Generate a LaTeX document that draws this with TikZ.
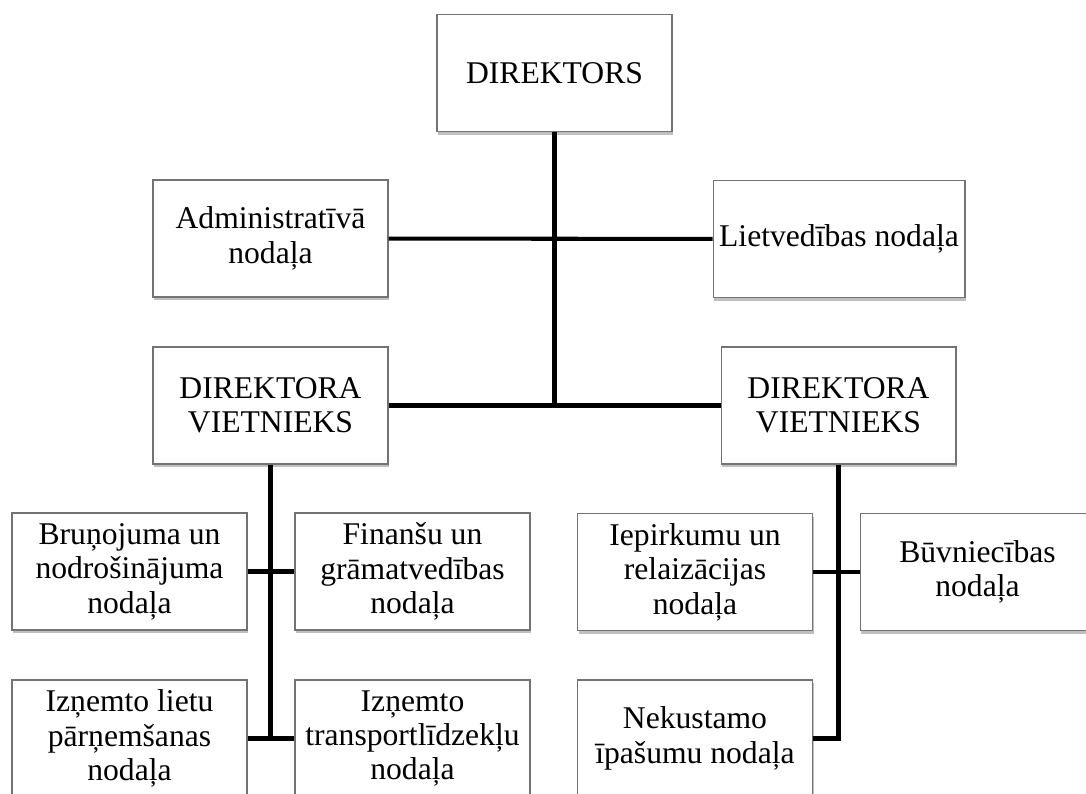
\documentclass[tikz,border=0pt]{standalone}
\usepackage{fontspec}
\setmainfont{Liberation Serif}
\usetikzlibrary{shadows}
\begin{document}
\begin{tikzpicture}[x=0.02cm,y=-0.02cm]
        \useasboundingbox (0,0) rectangle (1086,794);
        \begin{scope}[every node/.style={draw=black!55,line width=0.6pt,fill=white,
                drop shadow={shadow xshift=0.8pt,shadow yshift=-1.8pt,fill=black!50},
                minimum width=4.7cm,minimum height=2.34cm,inner sep=1pt,align=center,
                font=\fontsize{18}{19.6}\selectfont}]
            \node (dir) at (554.5,73) {DIREKTORS};
            \node (adm) at (270.5,238.5) {Administratīvā\\nodaļa};
            \node (liet) [minimum width=5.04cm] at (839,239) {Lietvedības nodaļa};
            \node (vl) at (270.5,405.5) {DIREKTORA\\VIETNIEKS};
            \node (vr) at (838.5,405.5) {DIREKTORA\\VIETNIEKS};
            \node (bru) at (129.5,571.5) {Bruņojuma un\\nodrošinājuma\\nodaļa};
            \node (fin) at (412.5,571.5) {Finanšu un\\grāmatvedības\\nodaļa};
            \node (izl) at (129.5,738.5) {Izņemto lietu\\pārņemšanas\\nodaļa};
            \node (izt) at (412.5,738.5) {Izņemto\\transportlīdzekļu\\nodaļa};
            \node (iep) at (695,572) {Iepirkumu un\\relaizācijas\\nodaļa};
            \node (buv) at (977.5,572) {Būvniecības\\nodaļa};
            \node (nek) at (695,738.5) {Nekustamo\\īpašumu nodaļa};
        \end{scope}
        \begin{scope}[every path/.style={draw,line width=2.3pt}]
            \path (dir.south) -- (dir.south |- vl.east);
            \path
                (adm) edge (liet)
                (vl) edge (vr)
                (bru) edge (fin)
                (izl) edge (izt)
                (iep) edge (buv);
            \path (vl.south) -- (vl.south |- izl.east);
            \path (vr.south) |- (nek.east);
        \end{scope}
    \end{tikzpicture}
\end{document}
